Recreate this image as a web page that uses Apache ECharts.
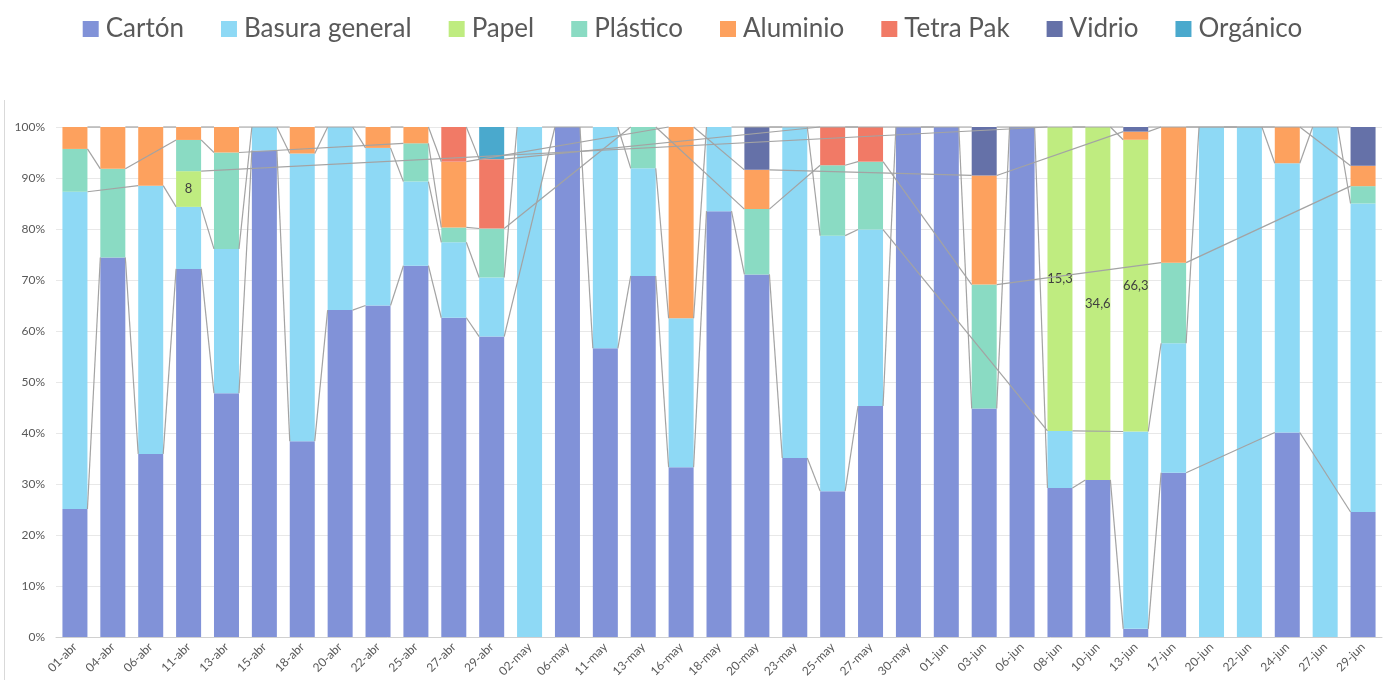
<!DOCTYPE html>
<html>
<head>
<meta charset="utf-8">
<script src="https://cdn.jsdelivr.net/npm/echarts@6/dist/echarts.min.js"></script>
<style>
  html, body { margin: 0; padding: 0; background: #fff; }
  #chart { width: 1385px; height: 680px; }
</style>
</head>
<body>
<div id="chart"></div>
<script>
// Collection dates
const dates = ['01-abr','04-abr','06-abr','11-abr','13-abr','15-abr','18-abr','20-abr','22-abr','25-abr',
  '27-abr','29-abr','02-may','06-may','11-may','13-may','16-may','18-may','20-may','23-may',
  '25-may','27-may','30-may','01-jun','03-jun','06-jun','08-jun','10-jun','13-jun','17-jun',
  '20-jun','22-jun','24-jun','27-jun','29-jun'];

// Amounts per waste type (null = nothing recorded that day)
const carton = [25.1, 74.4, 35.9, 82.5, 47.8, 95.4, 38.4, 64.1, 65.0, 72.8,
  62.6, 58.9, null, 100, 56.6, 70.8, 33.3, 83.5, 71.1, 35.1,
  28.6, 45.3, 100, 100, 44.8, 100, 7.5, 15.4, 1.85, 32.2,
  null, null, 40.1, null, 24.5];
const basura = [62.2, null, 52.6, 13.9, 28.3, 4.6, 56.4, 35.9, 30.9, 16.5,
  14.8, 11.6, 100, null, 43.4, 21.1, 29.2, 16.5, null, 64.9,
  50.1, 34.6, null, null, null, null, 2.87, null, 44.85, 25.4,
  100, 100, 52.8, 100, 60.5];
const papel = [null, null, null, 8, null, null, null, null, null, null,
  null, null, null, null, null, null, null, null, null, null,
  null, null, null, null, null, null, 15.3, 34.6, 66.3, null,
  null, null, null, null, null];
const plastico = [8.4, 17.4, null, 7.0, 18.9, null, null, null, null, 7.5,
  2.9, 9.6, null, null, null, 8.1, null, null, 12.8, null,
  13.8, 13.3, null, null, 24.3, null, null, null, null, 15.8,
  null, null, null, null, 3.4];
const aluminio = [4.3, 8.2, 11.5, 2.9, 5.0, null, 5.2, null, 4.1, 3.2,
  12.9, null, null, null, null, null, 37.5, null, 7.7, null,
  null, null, null, null, 21.4, null, null, null, 1.85, 26.6,
  null, null, 7.1, null, 4.0];
const tetraPak = [null, null, null, null, null, null, null, null, null, null,
  6.8, 13.6, null, null, null, null, null, null, null, null,
  7.5, 6.8, null, null, null, null, null, null, null, null,
  null, null, null, null, null];
const vidrio = [null, null, null, null, null, null, null, null, null, null,
  null, null, null, null, null, null, null, null, 8.4, null,
  null, null, null, null, 9.5, null, null, null, 1.05, null,
  null, null, null, null, 7.6];
const organico = [null, null, null, null, null, null, null, null, null, null,
  null, 6.3, null, null, null, null, null, null, null, null,
  null, null, null, null, null, null, null, null, null, null,
  null, null, null, null, null];

const seriesDefs = [
  { name: 'Cartón', raw: carton, color: '#8192d8' },
  { name: 'Basura general', raw: basura, color: '#8ed9f5' },
  { name: 'Papel', raw: papel, color: '#bfec80', labelled: true },
  { name: 'Plástico', raw: plastico, color: '#8adbc3' },
  { name: 'Aluminio', raw: aluminio, color: '#fda15e' },
  { name: 'Tetra Pak', raw: tetraPak, color: '#f17a66' },
  { name: 'Vidrio', raw: vidrio, color: '#6571a8' },
  { name: 'Orgánico', raw: organico, color: '#4aa9cd' }
];

const BAR_RATIO = 0.66;
const FONT = 'Lato, "Open Sans", sans-serif';

// Daily totals, used to express every amount as a share of the day
const totals = dates.map((_, i) => seriesDefs.reduce((s, d) => s + (d.raw[i] || 0), 0));
seriesDefs.forEach(d => {
  d.pct = d.raw.map((v, i) => v == null ? null : v / totals[i] * 100);
});

// Cumulative top of each segment, for the connector lines between columns
const tops = seriesDefs.map((d, k) => dates.map((_, i) => {
  if (d.raw[i] == null) return null;
  let s = 0;
  for (let m = 0; m <= k; m++) s += seriesDefs[m].pct[i] || 0;
  return Math.min(s, 100);
}));

// Each connector joins a segment top to the same series' top in the next column that has it
const connectors = [];
tops.forEach(t => {
  let prev = -1;
  t.forEach((v, i) => {
    if (v == null) return;
    if (prev >= 0) connectors.push([prev, i, t[prev], v]);
    prev = i;
  });
});

const barSeries = seriesDefs.map(d => ({
  name: d.name,
  type: 'bar',
  stack: 'total',
  barCategoryGap: '34%',
  itemStyle: { color: d.color },
  emphasis: { disabled: true },
  label: d.labelled ? {
    show: true,
    position: 'inside',
    color: '#404040',
    fontSize: 13,
    fontFamily: FONT,
    formatter: p => String(d.raw[p.dataIndex]).replace('.', ',')
  } : { show: false },
  data: d.pct
}));

const lineSeries = {
  type: 'custom',
  name: 'connectors',
  silent: true,
  z: 5,
  encode: { x: [0, 1], y: [2, 3] },
  renderItem: (params, api) => {
    const p1 = api.coord([api.value(0), api.value(2)]);
    const p2 = api.coord([api.value(1), api.value(3)]);
    const half = api.size([1, 0])[0] * BAR_RATIO / 2;
    return {
      type: 'line',
      shape: { x1: p1[0] + half, y1: p1[1], x2: p2[0] - half, y2: p2[1] },
      style: { stroke: '#a3a3a3', lineWidth: 1.2 }
    };
  },
  data: connectors
};

const chart = echarts.init(document.getElementById('chart'), null, { renderer: 'canvas' });
chart.setOption({
  animation: false,
  backgroundColor: '#ffffff',
  textStyle: { fontFamily: FONT },
  legend: {
    data: seriesDefs.map(d => d.name),
    top: 11,
    left: 'center',
    icon: 'rect',
    itemWidth: 16,
    itemHeight: 16,
    itemGap: 37,
    textStyle: { fontSize: 26, color: '#595959', fontFamily: FONT, padding: [0, 0, 0, 2] }
  },
  grid: { left: 56, right: 3, top: 127, bottom: 43, containLabel: false },
  xAxis: {
    type: 'category',
    data: dates,
    axisLine: { lineStyle: { color: '#d0d0d0' } },
    axisTick: { show: false },
    axisLabel: { rotate: 45, fontSize: 12, color: '#595959', margin: 8, interval: 0, fontFamily: FONT }
  },
  yAxis: {
    type: 'value',
    min: 0,
    max: 100,
    interval: 10,
    axisLine: { show: false },
    axisTick: { show: false },
    splitLine: { lineStyle: { color: '#e8e8e8' } },
    axisLabel: { formatter: '{value}%', fontSize: 12, color: '#595959', margin: 11, fontFamily: FONT }
  },
  graphic: [{
    type: 'line',
    shape: { x1: 4.5, y1: 100, x2: 4.5, y2: 680 },
    style: { stroke: '#d9d9d9', lineWidth: 1 },
    silent: true
  }],
  series: [...barSeries, lineSeries]
});
</script>
</body>
</html>
